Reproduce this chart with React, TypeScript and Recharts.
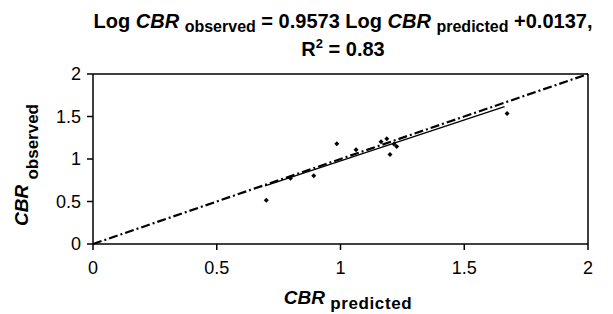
import React from 'react';
import {
  ScatterChart,
  Scatter,
  XAxis,
  YAxis,
  ReferenceLine,
} from 'recharts';

// observed vs predicted CBR points
const predicted = [0.7, 0.798, 0.892, 0.985, 1.063, 1.164, 1.187, 1.2, 1.216, 1.227, 1.673];
const observed = [0.515, 0.774, 0.802, 1.178, 1.108, 1.202, 1.238, 1.053, 1.176, 1.148, 1.535];

// fitted line ends and the 1:1 line
const fitX = [0.695, 1.663];
const fitY = [0.684, 1.615];
const equalX = [0, 2];
const equalY = [0, 2];

const ticks = [0, 0.5, 1, 1.5, 2];

const FONT = '"Liberation Sans", Arial, sans-serif';

const points = predicted.map((x, i) => ({ x, y: observed[i] }));
const fitLine = fitX.map((x, i) => ({ x, y: fitY[i] }));
const equalLine = equalX.map((x, i) => ({ x, y: equalY[i] }));

const Diamond = (props: any) => {
  const { cx, cy } = props;
  if (cx == null || cy == null) return <g />;
  return (
    <polygon
      points={`${cx},${cy - 2.5} ${cx + 2.5},${cy} ${cx},${cy + 2.5} ${cx - 2.5},${cy}`}
      fill="#000"
    />
  );
};

const NoDot = () => <g />;

const Sub = ({ size, drop, spacing = 0, children }: any) => (
  <span
    style={{
      fontSize: size,
      lineHeight: 1,
      verticalAlign: -drop,
      letterSpacing: spacing,
    }}
  >
    {children}
  </span>
);

const line = {
  position: 'absolute',
  left: 43,
  width: 600,
  textAlign: 'center',
  fontWeight: 'bold',
  fontSize: 20,
  lineHeight: '24px',
  whiteSpace: 'nowrap',
} as const;

export default function App() {
  return (
    <div
      style={{
        position: 'absolute',
        left: 0,
        top: 0,
        width: 613,
        height: 314,
        background: '#fff',
        fontFamily: FONT,
        color: '#000',
      }}
    >
      {/* title, baselines ~28 and ~56 */}
      <div style={{ ...line, top: 9 }}>
        Log <i>CBR</i> <Sub size={16} drop={4}>observed</Sub> = 0.9573 Log <i>CBR</i>{' '}
        <Sub size={16} drop={4}>predicted</Sub> +0.0137,
      </div>
      <div style={{ ...line, top: 37 }}>
        R<span style={{ fontSize: 13, lineHeight: 1, verticalAlign: 8 }}>2</span> = 0.83
      </div>

      <ScatterChart
        width={613}
        height={314}
        margin={{ top: 74, right: 25, bottom: 0, left: 0 }}
        style={{ position: 'absolute', left: 0, top: 0 }}
      >
        <XAxis
          type="number"
          dataKey="x"
          domain={[0, 2]}
          ticks={ticks}
          height={70}
          axisLine={{ stroke: '#000', strokeWidth: 1.5 }}
          tickLine={{ stroke: '#000', strokeWidth: 1.5 }}
          tickSize={6}
          tickMargin={11}
          tick={{ fill: '#000', fontSize: 18, fontFamily: FONT }}
        />
        <YAxis
          type="number"
          dataKey="y"
          domain={[0, 2]}
          ticks={ticks}
          width={93}
          axisLine={{ stroke: '#000', strokeWidth: 1.5 }}
          tickLine={{ stroke: '#000', strokeWidth: 1.5 }}
          tickSize={6}
          tickMargin={6}
          tick={{ fill: '#000', fontSize: 18, fontFamily: FONT }}
        />
        <ReferenceLine y={2} stroke="#000" strokeWidth={1.5} />
        <ReferenceLine x={2} stroke="#000" strokeWidth={1.5} />
        <Scatter
          data={equalLine}
          line={{ stroke: '#000', strokeWidth: 2.2, strokeDasharray: '9 3 2 3' }}
          shape={NoDot}
          isAnimationActive={false}
        />
        <Scatter
          data={fitLine}
          line={{ stroke: '#000', strokeWidth: 1.3 }}
          shape={NoDot}
          isAnimationActive={false}
        />
        <Scatter data={points} shape={Diamond} isAnimationActive={false} />
      </ScatterChart>

      {/* x axis title, baseline ~305 */}
      <div
        style={{
          position: 'absolute',
          left: 248,
          top: 286,
          width: 200,
          textAlign: 'center',
          fontWeight: 'bold',
          fontSize: 19,
          lineHeight: '24px',
          whiteSpace: 'nowrap',
        }}
      >
        <i>CBR</i> <Sub size={17} drop={5} spacing={0.6}>predicted</Sub>
      </div>

      {/* y axis title, rotated; main baseline at x ~29 */}
      <div
        style={{
          position: 'absolute',
          left: 22 - 100,
          top: 165 - 12,
          width: 200,
          height: 24,
          textAlign: 'center',
          fontWeight: 'bold',
          fontSize: 19,
          lineHeight: '24px',
          whiteSpace: 'nowrap',
          transform: 'rotate(-90deg)',
        }}
      >
        <i>CBR</i> <Sub size={17} drop={10}>observed</Sub>
      </div>
    </div>
  );
}
